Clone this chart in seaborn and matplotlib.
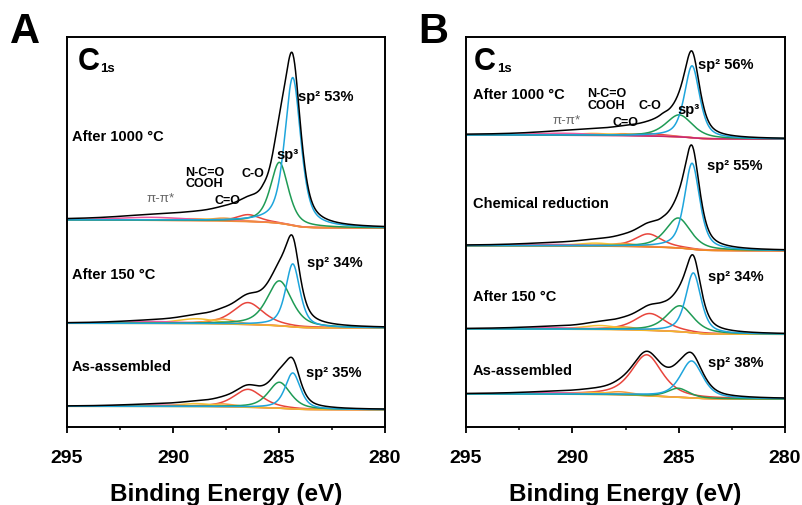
import numpy as np
import pandas as pd
import matplotlib
matplotlib.use('Agg')
import matplotlib.pyplot as plt
import seaborn as sns

# component order: sp2, sp3, C-O, C=O, N-C=O/COOH, pi-pi*
comp_colors = ['#1ea5dc', '#1f9b55', '#e8453c', '#f59a3c', '#f5c034', '#e85aa0']

# ---- panel A ----
A_labels = ['After 1000 °C', 'After 150 °C', 'As-assembled']
A_sp2_text = ['sp² 53%', 'sp² 34%', 'sp² 35%']
A_base_left = [207, 103.7, 20.7]
A_base_right = [199, 99, 17.3]
A_base_color = ['#f28c38', '#f2b52a', '#f2b52a']
A_tail_height = [10, 0, 0]

A1_center = [284.35, 284.98, 286.45, 287.6, 289.0, 291.0]
A1_height = [148, 61, 7, 3, 2, 3]
A1_fwhm = [0.9, 1.0, 1.3, 1.6, 2.5, 4.0]

A2_center = [284.35, 284.98, 286.46, 287.7, 288.9, 291.0]
A2_height = [63, 45, 22, 5, 5, 2]
A2_fwhm = [0.8, 1.4, 1.7, 1.5, 2.2, 3.5]

A3_center = [284.35, 284.98, 286.46, 287.7, 288.9, 291.0]
A3_height = [36, 26, 18, 3, 3, 1.5]
A3_fwhm = [0.85, 1.25, 1.6, 1.5, 2.2, 3.5]

# ---- panel B ----
B_labels = ['After 1000 °C', 'Chemical reduction', 'After 150 °C', 'As-assembled']
B_sp2_text = ['sp² 56%', 'sp² 55%', 'sp² 34%', 'sp² 38%']
B_base_left = [292, 181.3, 98, 33]
B_base_right = [288, 176.3, 92.7, 28]
B_base_color = ['#c8286e', '#f08a20', '#f2b52a', '#f2b52a']
B_tail_height = [7, 4, 2, 0]

B1_center = [284.37, 284.97, 286.4, 287.6, 289.0, 290.5]
B1_height = [72, 22, 2.5, 2, 2, 2]
B1_fwhm = [0.85, 1.5, 1.6, 1.5, 2.2, 3.5]

B2_center = [284.37, 285.02, 286.43, 287.6, 288.9, 291.0]
B2_height = [86, 30, 13, 3, 3, 1.5]
B2_fwhm = [0.85, 1.4, 1.5, 1.5, 2.2, 3.5]

B3_center = [284.31, 284.94, 286.35, 287.6, 288.7, 291.0]
B3_height = [60, 26, 17, 3, 4, 1.5]
B3_fwhm = [0.85, 1.5, 1.7, 1.5, 2.0, 3.5]

B4_center = [284.39, 285.02, 286.50, 287.8, 289.0, 291.0]
B4_height = [37, 9, 41, 3, 2, 1.5]
B4_fwhm = [1.25, 1.2, 1.7, 1.5, 2.2, 3.5]

energy = np.linspace(295, 280, 751)


def peak(E, c, h, w, eta=0.6):
    x = (E - c) / w
    g = np.exp(-4 * np.log(2) * x ** 2)
    lor = 1 / (1 + 4 * x ** 2)
    return h * (eta * lor + (1 - eta) * g)


def tail(E, h, c=285.8, w_hi=5.0, w_lo=0.8):
    # broad shake-up intensity on the high binding-energy side (in the measured curve only)
    w = np.where(E > c, w_hi, w_lo)
    return h / (1 + 4 * ((E - c) / w) ** 2)


def line(ax, y, color, lw=1.1):
    sns.lineplot(x=energy, y=y, ax=ax, color=color, lw=lw, estimator=None, sort=False)


def draw_spectrum(ax, centers, heights, fwhms, tail_h, left, right, base_color):
    comps = [peak(energy, c, h, w) for c, h, w in zip(centers, heights, fwhms)]
    total = np.sum(comps, axis=0) + tail(energy, tail_h)
    # Shirley-type step background (energy runs high -> low)
    cum = np.cumsum(total[::-1])[::-1]
    base = right + (left - right) * cum / cum[0]
    for i in [2, 3, 4, 5]:
        line(ax, base + comps[i], comp_colors[i])
    line(ax, base, base_color)
    for i in [1, 0]:
        line(ax, base + comps[i], comp_colors[i])
    line(ax, base + total, 'black')


sns.set_theme(style='white')
plt.rcParams['font.family'] = ['Liberation Sans', 'DejaVu Sans']
plt.rcParams['font.weight'] = 'bold'
plt.rcParams['text.color'] = 'black'
plt.rcParams['axes.labelcolor'] = 'black'
plt.rcParams['xtick.color'] = 'black'

fig = plt.figure(figsize=(8.02, 5.06), dpi=100)
axA = fig.add_axes([67 / 802, 78 / 506, 318 / 802, 390 / 506])
axB = fig.add_axes([466 / 802, 78 / 506, 319 / 802, 390 / 506])

A_sets = [(A1_center, A1_height, A1_fwhm), (A2_center, A2_height, A2_fwhm),
          (A3_center, A3_height, A3_fwhm)]
B_sets = [(B1_center, B1_height, B1_fwhm), (B2_center, B2_height, B2_fwhm),
          (B3_center, B3_height, B3_fwhm), (B4_center, B4_height, B4_fwhm)]

for k, (c, h, w) in enumerate(A_sets):
    draw_spectrum(axA, c, h, w, A_tail_height[k], A_base_left[k], A_base_right[k], A_base_color[k])
for k, (c, h, w) in enumerate(B_sets):
    draw_spectrum(axB, c, h, w, B_tail_height[k], B_base_left[k], B_base_right[k], B_base_color[k])

for ax in [axA, axB]:
    ax.set_xlim(295, 280)
    ax.set_ylim(0, 390)
    ax.set_yticks([])
    ax.set_ylabel('')
    ax.set_xticks([295, 290, 285, 280])
    ax.set_xticks([292.5, 287.5, 282.5], minor=True)
    ax.tick_params(axis='x', which='major', direction='out', length=4.5, width=1.3,
                   labelsize=14, pad=11, bottom=True, colors='black')
    ax.tick_params(axis='x', which='minor', direction='out', length=2.5, width=1.1,
                   bottom=True)
    for lbl in ax.get_xticklabels():
        lbl.set_fontweight('bold')
    for sp in ax.spines.values():
        sp.set_color('black')
        sp.set_linewidth(1.4)
    ax.set_xlabel('Binding Energy (eV)', fontsize=17.5, fontweight='bold', labelpad=12)
    ax.text(0.035 if ax is axA else 0.025, 0.918, 'C', transform=ax.transAxes,
            fontsize=22, fontweight='bold', va='baseline')
    ax.text(0.104 if ax is axA else 0.097, 0.914, '1s', transform=ax.transAxes,
            fontsize=9.5, fontweight='bold', va='baseline')

lab = dict(fontsize=10.5, fontweight='bold', va='center', ha='left')
small = dict(fontsize=9, fontweight='bold', va='center', ha='left')
pi_kw = dict(fontsize=9.5, fontweight='normal', color='#666666', va='center', ha='left')

# panel A labels
for txt, y in zip(A_labels, [291, 153, 61]):
    axA.text(294.76, y, txt, **lab)
for txt, (x, y) in zip(A_sp2_text, [(284.10, 330.5), (283.68, 165.5), (283.73, 55.5)]):
    axA.text(x, y, txt, **lab)
axA.text(285.14, 273, 'sp³', **lab)
axA.text(289.43, 255.5, 'N-C=O', **small)
axA.text(289.43, 244, 'COOH', **small)
axA.text(286.75, 254, 'C-O', **small)
axA.text(288.02, 227, 'C=O', **small)
axA.text(291.23, 229, 'π-π*', **pi_kw)

# panel B labels
for txt, y in zip(B_labels, [333, 224, 131, 57]):
    axB.text(294.67, y, txt, **lab)
for txt, (x, y) in zip(B_sp2_text, [(284.09, 363), (283.67, 262), (283.62, 151.5), (283.62, 65.5)]):
    axB.text(x, y, txt, **lab)
axB.text(285.08, 318, 'sp³', **lab)
axB.text(289.31, 334, 'N-C=O', **small)
axB.text(289.31, 322, 'COOH', **small)
axB.text(286.87, 322, 'C-O', **small)
axB.text(288.09, 305.5, 'C=O', **small)
axB.text(290.91, 307, 'π-π*', **pi_kw)

fig.text(10 / 802, 1 - 43 / 506, 'A', fontsize=30, fontweight='bold', va='baseline')
fig.text(418 / 802, 1 - 43 / 506, 'B', fontsize=30, fontweight='bold', va='baseline')

fig.savefig('out.png', dpi=100)
